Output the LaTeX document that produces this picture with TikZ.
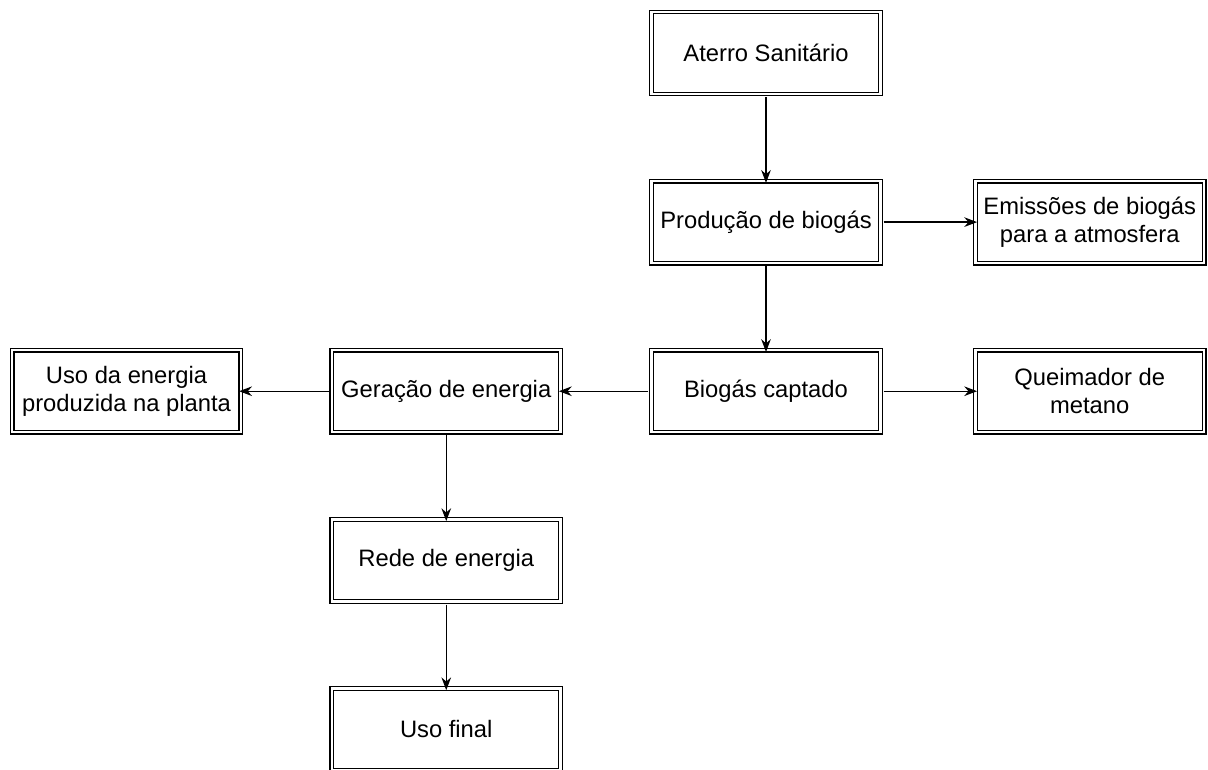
\documentclass[tikz,border=0pt]{standalone}
\usepackage{fontspec}
\setmainfont{Liberation Sans}
\usetikzlibrary{positioning, arrows.meta}

\begin{document}
\begin{tikzpicture}[x=0.025cm, y=-0.025cm, line width=0.9pt,
  >={Stealth[length=0.32cm,width=0.24cm]}, shorten >=-0.06cm, shorten <=0.065cm,
  node distance=2.145cm and 2.24cm,
  box/.style={draw, double, double distance=0.06cm, minimum width=5.72cm,
    minimum height=2.05cm, align=center, inner sep=0pt,
    font=\fontsize{16.9}{20}\selectfont}]
  \useasboundingbox (0,0) rectangle (1208,769);

  \node[box]                          (aterro)    at (766,53) {Aterro Sanitário};
  \node[box, below=of aterro]          (producao)  {Produção de biogás};
  \node[box, right=2.34cm of producao] (emissoes)  {Emissões de biogás\\para a atmosfera};
  \node[box, below=of producao]        (captado)   {Biogás captado};
  \node[box, right=2.34cm of captado]  (queimador) {Queimador de\\metano};
  \node[box, left=of captado]          (geracao)   {Geração de energia};
  \node[box, left=of geracao]          (usoplanta) {Uso da energia\\produzida na planta};
  \node[box, below=of geracao]         (rede)      {Rede de energia};
  \node[box, below=of rede]            (usofinal)  {Uso final};

  \path[->]
        (aterro)   edge (producao)
        (producao) edge (emissoes)
        (producao) edge (captado)
        (captado)  edge (queimador)
        (captado)  edge (geracao)
        (geracao)  edge (usoplanta)
        (geracao)  edge (rede)
        (rede)     edge (usofinal);
\end{tikzpicture}
\end{document}
